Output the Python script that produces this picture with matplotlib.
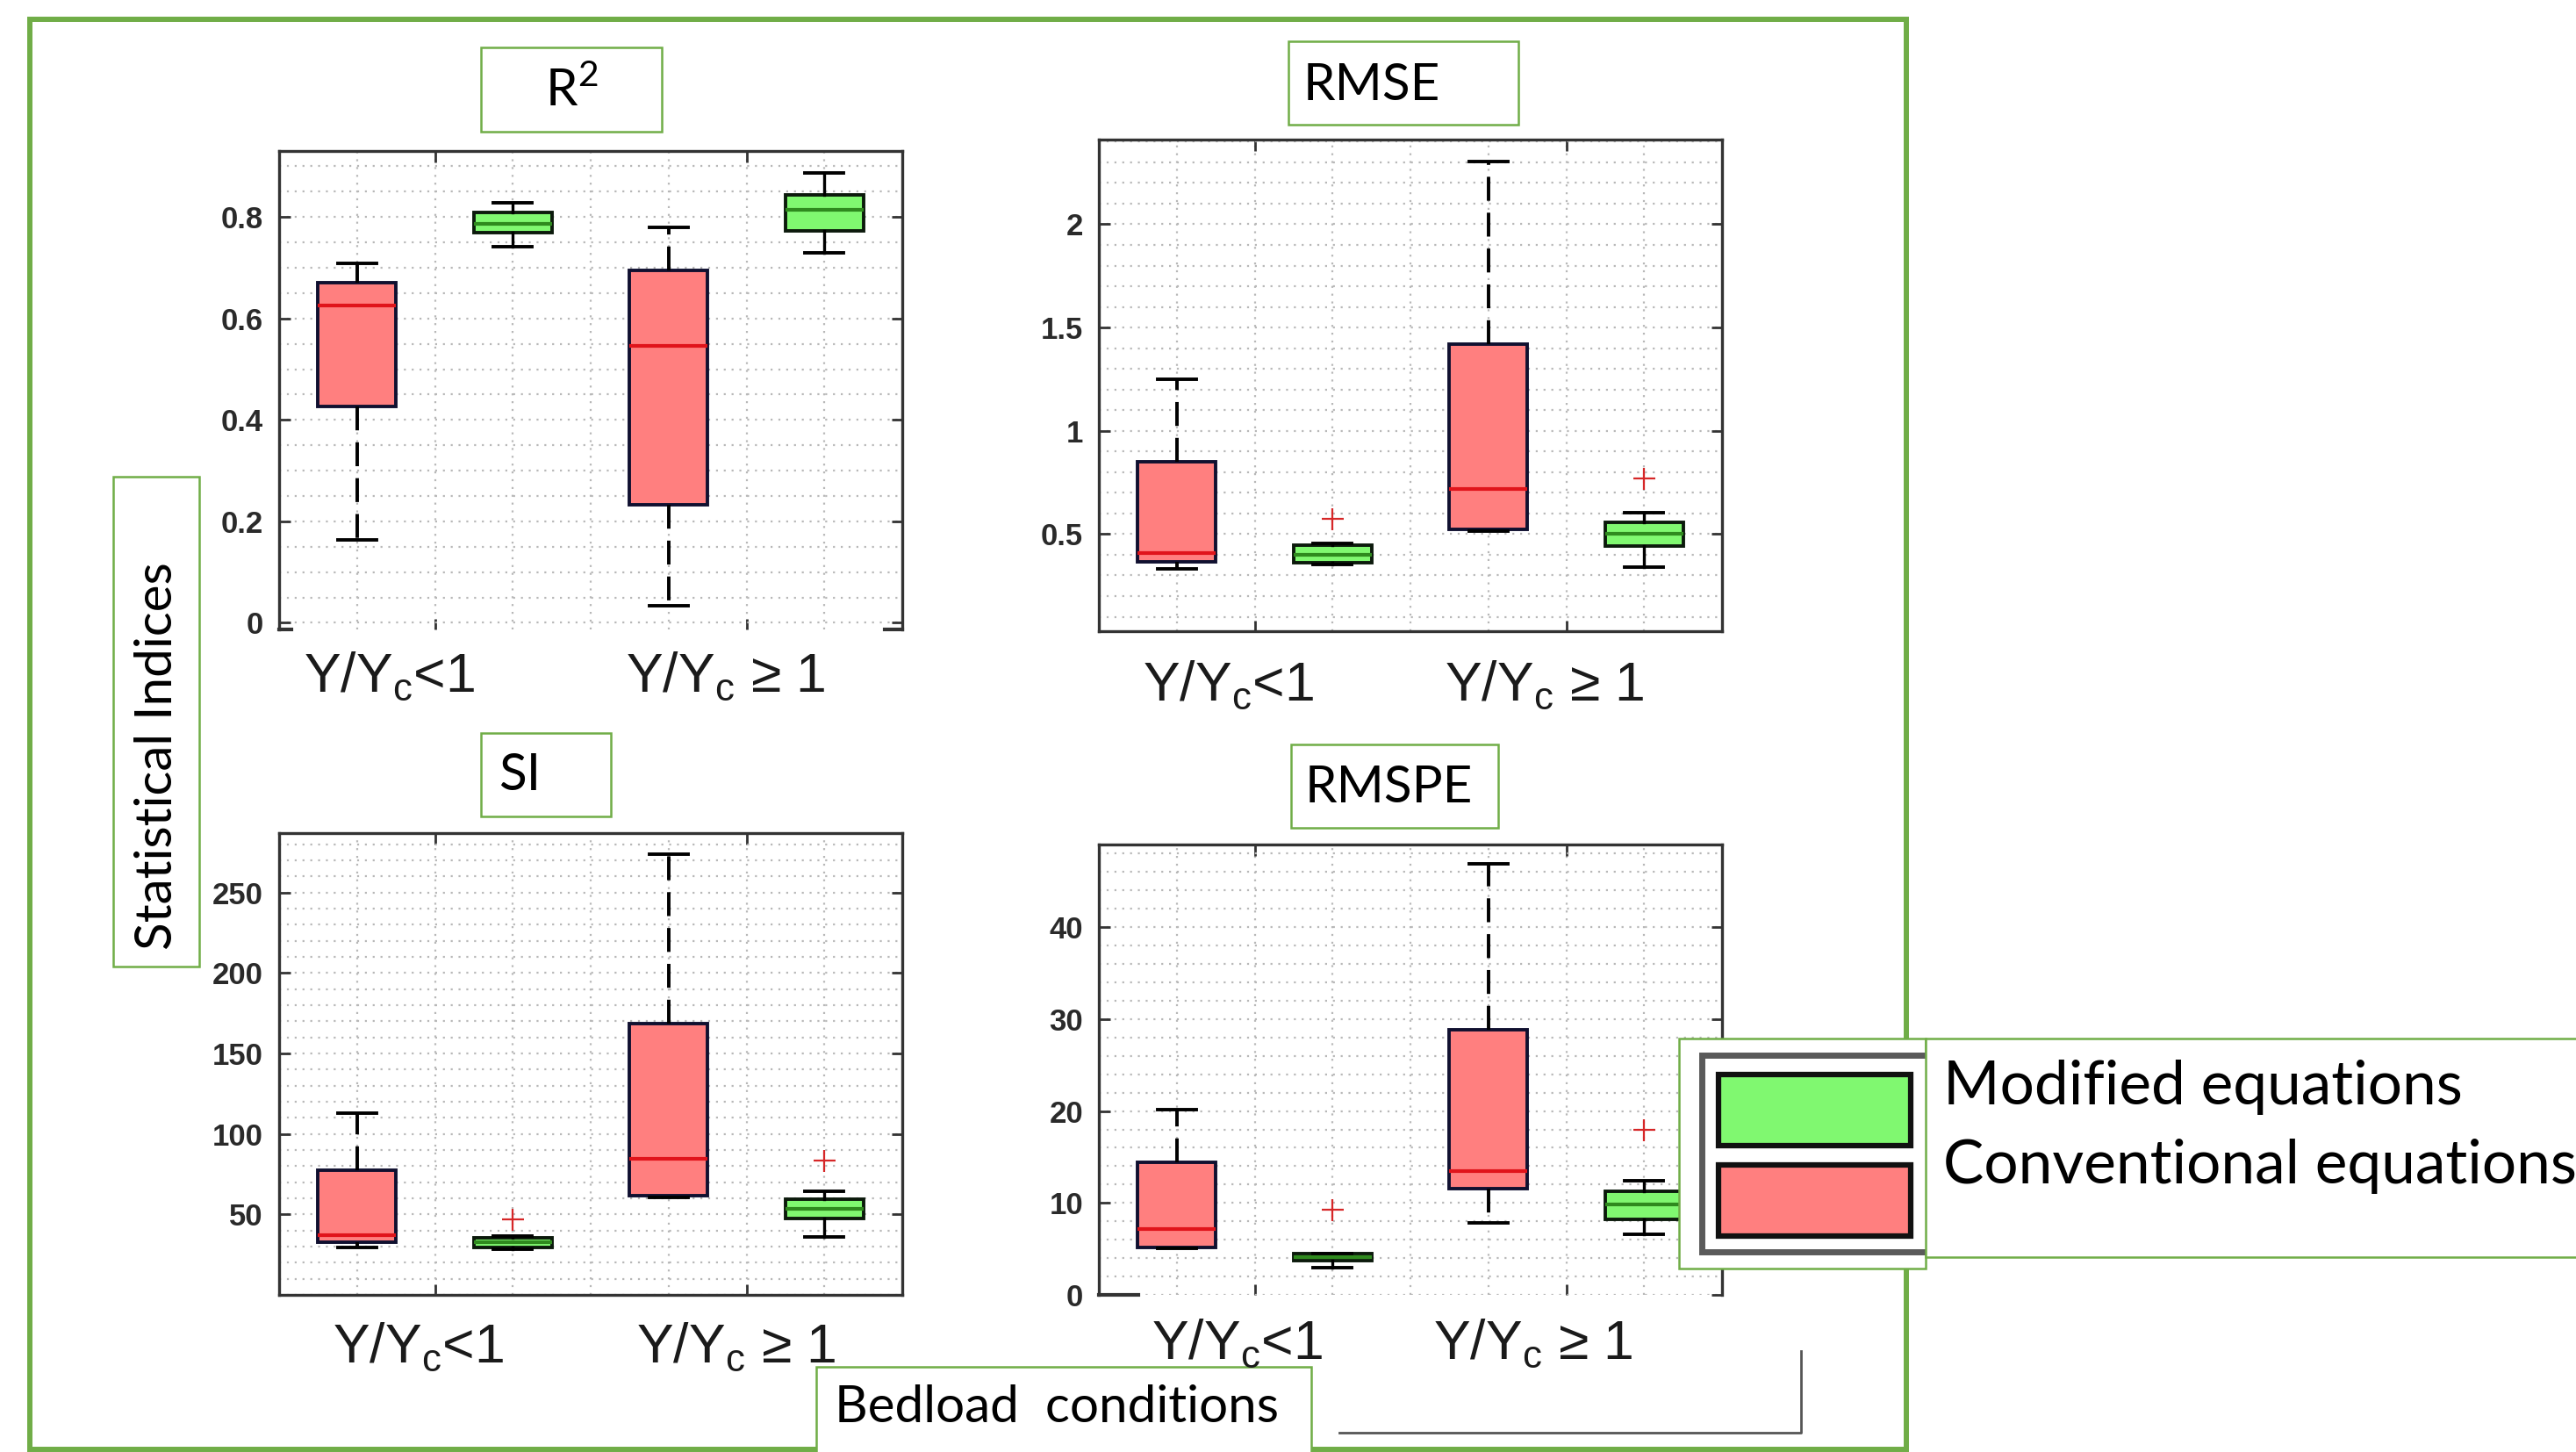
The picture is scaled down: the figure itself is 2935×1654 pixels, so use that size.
import matplotlib
matplotlib.use('Agg')
import matplotlib.pyplot as plt
from matplotlib import font_manager
from matplotlib.patches import Rectangle
from matplotlib.ticker import MultipleLocator, FixedLocator, FuncFormatter

W, H = 2935, 1654

# categories / series
groups = ['Y/Y$_\\mathregular{c}$<1', 'Y/Y$_\\mathregular{c}$ ≥ 1']
series = ['Modified equations', 'Conventional equations']
panel_titles = ['R$^\\mathregular{2}$', 'RMSE', 'SI', 'RMSPE']

# box stats per group: [lower whisker, q1, median, q3, upper whisker]
r2_conv = [[0.163, 0.426, 0.626, 0.670, 0.708], [0.034, 0.233, 0.546, 0.695, 0.779]]
r2_mod = [[0.741, 0.769, 0.786, 0.809, 0.828], [0.730, 0.772, 0.814, 0.844, 0.887]]
r2_mod_out = [[], []]

rmse_conv = [[0.330, 0.365, 0.409, 0.849, 1.25], [0.515, 0.523, 0.718, 1.42, 2.305]]
rmse_mod = [[0.352, 0.362, 0.398, 0.446, 0.455], [0.341, 0.443, 0.500, 0.555, 0.604]]
rmse_mod_out = [[0.576], [0.771]]

si_conv = [[29.6, 33.0, 37.0, 77.7, 113.0], [60.6, 61.6, 84.3, 168.4, 274.0]]
si_mod = [[28.6, 29.2, 32.6, 35.4, 36.6], [36.2, 47.2, 53.4, 59.6, 64.2]]
si_mod_out = [[47.0], [83.7]]

rmspe_conv = [[5.1, 5.2, 7.2, 14.4, 20.2], [7.8, 11.6, 13.5, 28.8, 46.9]]
rmspe_mod = [[3.0, 3.7, 4.1, 4.5, 4.5], [6.6, 8.2, 9.8, 11.3, 12.4]]
rmspe_mod_out = [[9.3], [18.0]]

RED = '#ff7f7f'
GREEN = '#80f870'
OFFICE_GREEN = '#70ad47'
EDGE = '#101030'


def has_font(name):
    try:
        font_manager.findfont(name, fallback_to_default=False)
        return True
    except Exception:
        return False


# narrow face if there is one, otherwise plain Liberation Sans a bit smaller
if has_font('Liberation Sans Narrow'):
    NARROW, NARROW_SIZE = 'Liberation Sans Narrow', 52
else:
    NARROW, NARROW_SIZE = 'Liberation Sans', 45
CAL = 'Lato'
TICKFONT = 'Liberation Sans'

fig = plt.figure(figsize=(W / 100, H / 100), dpi=100)


def make_stats(rows, outs):
    return [dict(whislo=r[0], q1=r[1], med=r[2], q3=r[3], whishi=r[4], fliers=o)
            for r, o in zip(rows, outs)]


def panel(rect, conv, mod, mod_out, ylim, major, minor, fmt, stubs=None):
    l, t, r, b = rect
    ax = fig.add_axes([l / W, 1 - b / H, (r - l) / W, (b - t) / H])
    common = dict(widths=0.5, capwidths=0.25, patch_artist=True, manage_ticks=False)
    ax.bxp(make_stats(conv, [[], []]), positions=[1, 3],
           boxprops=dict(facecolor=RED, edgecolor=EDGE, linewidth=2.8),
           whiskerprops=dict(color='black', linewidth=2.8, linestyle=(0, (7, 3.5))),
           capprops=dict(color='black', linewidth=2.8),
           medianprops=dict(color='#e0141b', linewidth=3),
           **common)
    ax.bxp(make_stats(mod, mod_out), positions=[2, 4],
           boxprops=dict(facecolor=GREEN, edgecolor='#0c1a0c', linewidth=2.8),
           whiskerprops=dict(color='black', linewidth=2.4),
           capprops=dict(color='black', linewidth=2.8),
           medianprops=dict(color='#2f8a1e', linewidth=3),
           flierprops=dict(marker='+', markeredgecolor='#d62728', markersize=18,
                           markeredgewidth=1.6, linestyle='none'),
           **common)
    ax.set_xlim(0.5, 4.5)
    ax.set_ylim(*ylim)
    ax.xaxis.set_major_locator(FixedLocator([1.5, 3.5]))
    ax.xaxis.set_minor_locator(FixedLocator([1, 2, 2.5, 3, 4]))
    ax.set_xticklabels([])
    ax.yaxis.set_major_locator(FixedLocator(major))
    ax.yaxis.set_minor_locator(MultipleLocator(minor))
    ax.yaxis.set_major_formatter(FuncFormatter(lambda v, p: fmt % v))
    ax.tick_params(which='major', direction='in', length=9, width=2, color='#333333',
                   top=True, right=True, labelsize=25, labelcolor='#2a2a2a', pad=13)
    ax.tick_params(which='minor', length=0)
    for lab in ax.get_yticklabels():
        lab.set_fontweight('bold')
        lab.set_fontfamily(TICKFONT)
    ax.grid(True, which='both', color='#b8b8b8', linestyle=(0, (1, 3)), linewidth=1.6)
    ax.set_axisbelow(True)
    for s in ax.spines.values():
        s.set_color('#333333')
        s.set_linewidth(2.4)
    if stubs is not None:
        ax.spines['bottom'].set_visible(False)
        for a, c in stubs:
            ax.plot([a, c], [0, 0], transform=ax.transAxes, color='#333333',
                    linewidth=3, clip_on=False)
    return ax


panel((318, 172, 1028, 717), r2_conv, r2_mod, r2_mod_out, (-0.013, 0.93),
      [0, 0.2, 0.4, 0.6, 0.8], 0.05, '%g', stubs=[(0, 0.02), (0.972, 1)])
panel((1252, 159, 1962, 719), rmse_conv, rmse_mod, rmse_mod_out, (0.03, 2.41),
      [0.5, 1, 1.5, 2], 0.1, '%g')
panel((318, 949, 1028, 1475), si_conv, si_mod, si_mod_out, (0, 287),
      [50, 100, 150, 200, 250], 10, '%g')
panel((1252, 962, 1962, 1475), rmspe_conv, rmspe_mod, rmspe_mod_out, (0, 49),
      [0, 10, 20, 30, 40], 2, '%g', stubs=[(0, 0.063)])

# overlay for the slide-style annotations
ov = fig.add_axes([0, 0, 1, 1], zorder=10)
ov.set_xlim(0, W)
ov.set_ylim(H, 0)
ov.axis('off')
ov.patch.set_visible(False)


def box(x0, y0, x1, y1, lw=1.8, ec=OFFICE_GREEN, fc='white'):
    ov.add_patch(Rectangle((x0, y0), x1 - x0, y1 - y0, facecolor=fc, edgecolor=ec,
                           linewidth=lw, clip_on=False))


# outer frame
box(34, 22, 2172, 1651, lw=4.3, fc='none')

# panel titles
title_boxes = [(548, 54, 754, 150), (1468, 47, 1730, 142),
               (548, 835, 696, 930), (1471, 848, 1707, 943)]
title_pos = [(651, 103), (1563, 98), (592, 884), (1582, 898)]
for (x0, y0, x1, y1), (tx, ty), name in zip(title_boxes, title_pos, panel_titles):
    box(x0, y0, x1, y1)
    ov.text(tx, ty, name, ha='center', va='center', fontsize=42, family=CAL)

# group labels under each panel
label_pos = [((444, 771), (827, 771)), ((1400, 781), (1760, 781)),
             ((477, 1535), (839, 1535)), ((1410, 1531), (1747, 1531))]
for pair in label_pos:
    for (tx, ty), g in zip(pair, groups):
        ov.text(tx, ty, g, ha='center', va='center', fontsize=NARROW_SIZE, family=NARROW,
                color='#1a1a1a')

# y label
box(129, 543, 227, 1101)
ov.text(180, 861, 'Statistical Indices', rotation=90, ha='center', va='center',
        fontsize=42, family=CAL)

# x label + bracket
ov.plot([1526, 2052, 2052], [1632, 1632, 1539], color='#555555', linewidth=2)
box(930, 1557, 1494, 1660)
ov.text(951, 1604, 'Bedload  conditions', ha='left', va='center', fontsize=42, family=CAL)

# legend
box(1913, 1183, 2194, 1445)
ov.add_patch(Rectangle((1939, 1202), 280, 224, facecolor='white', edgecolor='#5a5a5a',
                       linewidth=5, clip_on=False))
ov.add_patch(Rectangle((1958, 1224), 219, 81, facecolor=GREEN, edgecolor='#111111',
                       linewidth=4.5))
ov.add_patch(Rectangle((1958, 1327), 219, 81, facecolor=RED, edgecolor='#111111',
                       linewidth=4.5))
box(2194, 1183, 2960, 1432)
ov.text(2214, 1239, series[0], ha='left', va='center', fontsize=50, family=CAL)
ov.text(2214, 1329, series[1], ha='left', va='center', fontsize=50, family=CAL)

fig.savefig('out.png', dpi=100, facecolor='white')
